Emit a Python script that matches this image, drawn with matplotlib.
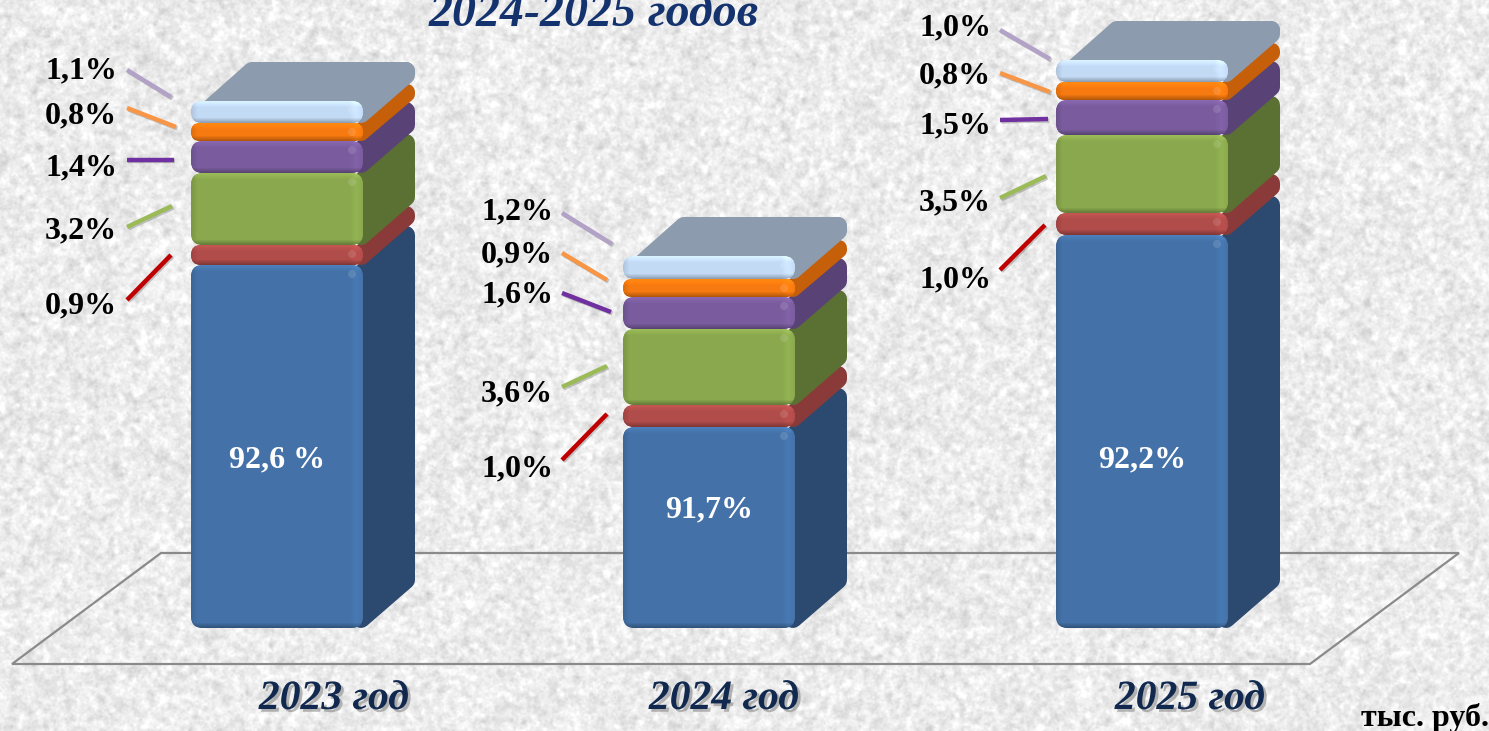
import numpy as np
import matplotlib
matplotlib.use("Agg")
import matplotlib.pyplot as plt
from matplotlib.patches import FancyBboxPatch, Polygon, Circle
import matplotlib.patheffects as pe

# drawn segment heights, bottom to top (the picture's blue part has a broken scale)
years = ["2023 год", "2024 год", "2025 год"]
blue = [363, 201, 393]
red = [20, 22, 22]
green = [72, 76, 78]
purple = [32, 32, 35]
orange = [18, 18, 18]
pale = [22, 23, 22]

blue_labels = ["92,6 %", "91,7%", "92,2%"]
small_labels = [
    ["0,9%", "3,2%", "1,4%", "0,8%", "1,1%"],
    ["1,0%", "3,6%", "1,6%", "0,9%", "1,2%"],
    ["1,0%", "3,5%", "1,5%", "0,8%", "1,0%"],
]

# layout, in picture pixels
bar_left = [191, 623, 1056]
bar_width = 172
base_y = 628
depth_x, depth_y = 52, 39
label_right = [117, 553, 991]
label_y = [[306, 231, 168, 116, 71], [469, 394, 295, 255, 212], [280, 203, 126, 76, 28]]
blue_label_y = [460, 510, 460]
leaders = [
    [((127, 300), (171, 255)), ((127, 227), (172, 206)), ((127, 160), (174, 160)), ((127, 108), (176, 127)), ((127, 70), (171, 97))],
    [((562, 460), (607, 414)), ((562, 387), (607, 366)), ((562, 293), (611, 312)), ((562, 253), (607, 280)), ((562, 213), (612, 244))],
    [((1000, 270), (1045, 225)), ((1000, 198), (1046, 176)), ((1000, 120), (1048, 119)), ((1000, 73), (1050, 92)), ((1000, 30), (1050, 59))],
]
year_x = [334, 724, 1190]
floor = [(12, 664), (161, 553), (1459, 553), (1310, 664)]

fronts = ["#4472a8", "#b04c4a", "#8aa84e", "#7a5c9e", "#f67a10", "#c3daf5"]
sides = ["#2c4a70", "#8a3a38", "#5b7133", "#594276", "#c55f0a", "#8c9bad"]
leader_colors = ["#c00000", "#9bbb59", "#7030a0", "#f79646", "#b3a2c7"]

SERIF = "Liberation Serif"

fig = plt.figure(figsize=(14.89, 7.31), dpi=100)
ax = fig.add_axes([0, 0, 1, 1])


def make_paper(h, w):
    # just the speckled paper behind the chart, not data
    rng = np.random.default_rng(7)
    total = np.zeros((h, w))
    for sigma, amount in [(0.9, 0.6), (2.2, 1.0), (10, 0.12)]:
        fy = np.fft.fftfreq(h)[:, None]
        fx = np.fft.fftfreq(w)[None, :]
        kernel = np.exp(-2 * (np.pi * sigma) ** 2 * (fx ** 2 + fy ** 2))
        n = np.fft.ifft2(np.fft.fft2(rng.normal(size=(h, w))) * kernel).real
        total += amount * n / n.std()
    total = total / total.std()
    return np.clip(0.925 + 0.032 * total, 0.72, 1.0)


ax.imshow(make_paper(731, 1489), cmap="gray", vmin=0, vmax=1, extent=(0, 1489, 731, 0), aspect="auto", zorder=0)

ax.add_patch(Polygon(floor, closed=True, fill=False, edgecolor="#8a8a8a", linewidth=1.6, zorder=1))


def shade(color, height):
    # edges of the front face in pixels, so tall blocks don't get a wide dark band
    rgb = np.array(matplotlib.colors.to_rgb(color))
    rows = max(int(height), 2)
    v = np.arange(rows)
    prof_v = 1 + 0.12 * np.clip(1 - v / 6, 0, 1) - 0.32 * np.clip((v - (rows - 6)) / 6, 0, 1)
    h = np.arange(bar_width)
    prof_h = 1 - 0.10 * np.clip(1 - h / 6, 0, 1) + 0.06 * np.clip((h - (bar_width - 14)) / 6, 0, 1) * np.clip((bar_width - h) / 6, 0, 1)
    return np.clip(rgb[None, None, :] * prof_v[:, None, None] * prof_h[None, :, None], 0, 1)


def draw_block(x, top, bottom, front, side, z, lid=False):
    right = x + bar_width
    h = bottom - top
    r = min(12, h / 2)
    ins = min(9, h / 2 - 1)
    # side face: inset polygon with a thick round-joined edge gives soft corners
    pts = [(right - 2, top + ins), (right + depth_x - ins, top - depth_y + ins),
           (right + depth_x - ins, bottom - depth_y - ins), (right - 2, bottom - ins)]
    ax.add_patch(Polygon(pts, closed=True, facecolor=side, edgecolor=side, linewidth=ins * 1.44,
                         joinstyle="round", zorder=z))
    if lid:
        pts = [(x + ins + 8, top + ins), (x + depth_x + ins, top - depth_y + ins),
               (right + depth_x - ins, top - depth_y + ins), (right - 2, top + ins)]
        ax.add_patch(Polygon(pts, closed=True, facecolor=side, edgecolor=side, linewidth=ins * 1.44,
                             joinstyle="round", zorder=z))
    box = FancyBboxPatch((x, top), bar_width, h, boxstyle=f"round,pad=0,rounding_size={r}",
                         facecolor=front, edgecolor="none", zorder=z + 0.1)
    ax.add_patch(box)
    im = ax.imshow(shade(front, h), extent=(x, right, bottom, top), aspect="auto", zorder=z + 0.2)
    im.set_clip_path(box)
    # small glint near the top right corner of the front face
    ax.add_patch(Circle((right - 11, top + min(9, h / 2)), 4, facecolor="white", alpha=0.12,
                        edgecolor="none", zorder=z + 0.3))


segments = [blue, red, green, purple, orange, pale]
for i in range(len(years)):
    y = base_y
    for j, seg in enumerate(segments):
        top = y - seg[i]
        draw_block(bar_left[i], top, y, fronts[j], sides[j], 2 + j, lid=(j == len(segments) - 1))
        y = top

    ax.text(bar_left[i] + bar_width / 2, blue_label_y[i], blue_labels[i], color="white", family=SERIF,
            fontweight="bold", fontsize=23, ha="center", va="center", zorder=10)

    for k, lab in enumerate(small_labels[i]):
        ax.text(label_right[i], label_y[i][k], lab, color="black", family=SERIF, fontweight="bold",
                fontsize=23, ha="right", va="center", zorder=10)
        (x0, y0), (x1, y1) = leaders[i][k]
        ax.plot([x0, x1], [y0, y1], color=leader_colors[k], linewidth=3.2, solid_capstyle="butt", zorder=9,
                path_effects=[pe.SimpleLineShadow(offset=(1, -1), alpha=0.2), pe.Normal()])

    ax.text(year_x[i], 699, years[i], color="#12294f", family=SERIF, fontweight="bold", fontstyle="italic",
            fontsize=30, ha="center", va="center", zorder=10,
            path_effects=[pe.withSimplePatchShadow(offset=(2, -2), shadow_rgbFace="#777777", alpha=0.5)])

ax.text(594, 14, "2024-2025 годов", color="#14336e", family=SERIF, fontweight="bold", fontstyle="italic",
        fontsize=34.5, ha="center", va="center", zorder=10)
ax.text(1489, 718, "тыс. руб.", color="black", family=SERIF, fontweight="bold", fontsize=23,
        ha="right", va="center", zorder=10)

ax.set_xlim(0, 1489)
ax.set_ylim(731, 0)
ax.axis("off")
fig.savefig("out.png", dpi=100)
